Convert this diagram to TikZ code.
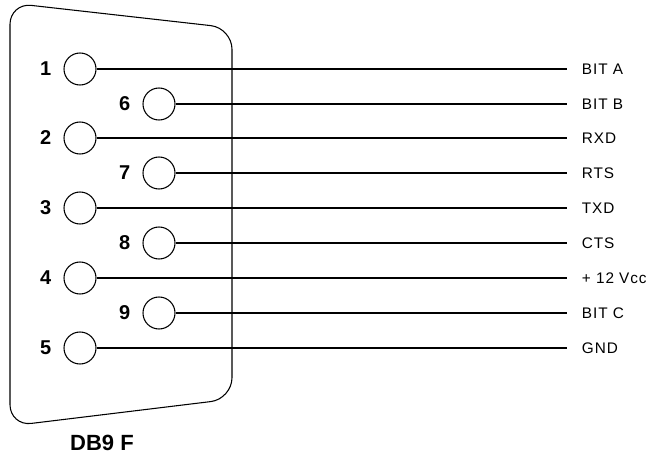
\documentclass[tikz,border=0pt]{standalone}
\usepackage{fontspec}
\setmainfont{Liberation Sans}
\newfontfamily\sigfont[LetterSpace=6]{Liberation Sans}

\begin{document}
\begin{tikzpicture}[x=0.75pt, y=-0.75pt,
    hole/.style={draw, circle, minimum size=24pt, inner sep=0pt, line width=0.8pt},
    every label/.style={font=\fontsize{15}{17}\selectfont\bfseries, inner sep=0pt, xshift=-9pt},
    sig/.style={anchor=west, inner xsep=11pt, inner ysep=0pt, font=\sigfont\fontsize{11.5}{13}\selectfont},
    wire/.style={line width=0.8pt}]
    \useasboundingbox (0,0) rectangle (651,454);

    % connector shell
    \draw[line width=0.8pt, rounded corners=16pt] (10,200) -- (10,3) -- (232,28) -- (232,399) -- (10,426) -- cycle;
    \node[font=\fontsize{16.5}{18}\selectfont\bfseries] (name) at (102,443) {DB9 F};

    % pins
    \node[hole, label=left:1] (p1) at (80,69) {};
    \node[hole, label=left:6] (p6) at (159,104) {};
    \node[hole, label=left:2] (p2) at (80,138) {};
    \node[hole, label=left:7] (p7) at (159,173) {};
    \node[hole, label=left:3] (p3) at (80,208) {};
    \node[hole, label=left:8] (p8) at (159,243) {};
    \node[hole, label=left:4] (p4) at (80,278) {};
    \node[hole, label=left:9] (p9) at (159,313) {};
    \node[hole, label=left:5] (p5) at (80,348) {};

    % signals
    \node[sig] (bita) at (567,69) {BIT A};
    \node[sig] (bitb) at (567,104) {BIT B};
    \node[sig] (rxd) at (567,138) {RXD};
    \node[sig] (rts) at (567,173) {RTS};
    \node[sig] (txd) at (567,208) {TXD};
    \node[sig] (cts) at (567,243) {CTS};
    \node[sig] (vcc) at (567,278) {+ 12 Vcc};
    \node[sig] (bitc) at (567,313) {BIT C};
    \node[sig] (gnd) at (567,348) {GND};

    \draw[wire] (p1) -- (bita);
    \draw[wire] (p6) -- (bitb);
    \draw[wire] (p2) -- (rxd);
    \draw[wire] (p7) -- (rts);
    \draw[wire] (p3) -- (txd);
    \draw[wire] (p8) -- (cts);
    \draw[wire] (p4) -- (vcc);
    \draw[wire] (p9) -- (bitc);
    \draw[wire] (p5) -- (gnd);
\end{tikzpicture}
\end{document}
